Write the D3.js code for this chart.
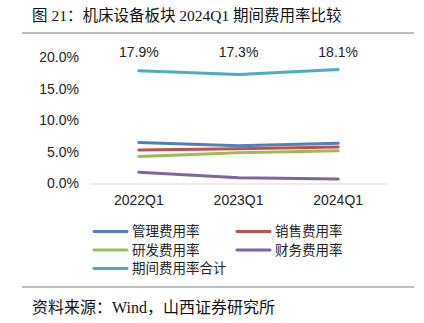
<!DOCTYPE html>
<html>
<head>
<meta charset="utf-8">
<script src="https://cdn.jsdelivr.net/npm/d3@7"></script>
<style>
  body { margin: 0; background: #fff; }
  svg { display: block; }
</style>
</head>
<body>
<script>
// quarters on the x axis
const quarters = ["2022Q1", "2023Q1", "2024Q1"];
// expense ratios, %
const mgmtRate = [6.5, 6.0, 6.4];
const salesRate = [5.3, 5.5, 5.8];
const rdRate = [4.3, 4.9, 5.2];
const finRate = [1.8, 0.9, 0.7];
const totalRate = [17.9, 17.3, 18.1];
const yTicks = [0, 5, 10, 15, 20];

const seriesNames = ["管理费用率", "销售费用率", "研发费用率", "财务费用率", "期间费用率合计"];
const seriesColors = ["#4F81BD", "#C0504D", "#9BBB59", "#8064A2", "#4BACC6"];
const series = [mgmtRate, salesRate, rdRate, finRate, totalRate].map((values, i) => ({
  name: seriesNames[i],
  color: seriesColors[i],
  values: values.map((v, j) => ({ q: quarters[j], v }))
}));

const W = 424, H = 323;
const cjk = "'Noto Sans CJK SC', sans-serif";
const serif = "'Liberation Serif', 'Noto Sans CJK SC', serif";
const sans = "'Liberation Sans', Arial, sans-serif";

const svg = d3.select("body").append("svg").attr("width", W).attr("height", H);

// heading and rule
svg.append("text")
  .attr("x", 32).attr("y", 21)
  .style("font-family", serif).style("font-size", "15.5px").attr("fill", "#111")
  .text("图 21：机床设备板块 2024Q1 期间费用率比较");
svg.append("line")
  .attr("x1", 22).attr("x2", 414).attr("y1", 33).attr("y2", 33)
  .attr("stroke", "#7f7f7f").attr("stroke-width", 1);

const x = d3.scaleBand().domain(quarters).range([89, 388]);
const y = d3.scaleLinear().domain([0, 20]).range([183.5, 57.5]);

// y axis labels only, no line
const yAxis = svg.append("g")
  .attr("transform", "translate(79,0)")
  .call(d3.axisLeft(y).tickValues(yTicks).tickSize(0).tickPadding(0)
    .tickFormat(d => d3.format(".1f")(d) + "%"));
yAxis.select(".domain").remove();
yAxis.selectAll("text")
  .style("font-family", sans).style("font-size", "14px").attr("fill", "#222");

// x axis baseline and labels
const xAxis = svg.append("g")
  .attr("transform", `translate(0,${y(0)})`)
  .call(d3.axisBottom(x).tickSize(0).tickPadding(12));
xAxis.select(".domain").attr("stroke", "#d9d9d9").attr("stroke-width", 1.2);
xAxis.selectAll("text")
  .style("font-family", sans).style("font-size", "14px").attr("fill", "#222");

const line = d3.line()
  .x(d => x(d.q) + x.bandwidth() / 2)
  .y(d => y(d.v));

svg.append("g").selectAll("path")
  .data(series)
  .join("path")
  .attr("d", d => line(d.values))
  .attr("fill", "none")
  .attr("stroke", d => d.color)
  .attr("stroke-width", 3)
  .attr("stroke-linecap", "round");

// value labels for the total
svg.append("g").selectAll("text")
  .data(series[4].values)
  .join("text")
  .attr("x", d => x(d.q) + x.bandwidth() / 2)
  .attr("y", 57)
  .attr("text-anchor", "middle")
  .style("font-family", sans).style("font-size", "14px").attr("fill", "#222")
  .text(d => d3.format(".1f")(d.v) + "%");

// legend, two columns
const legend = svg.append("g").selectAll("g")
  .data(series)
  .join("g")
  .attr("transform", (d, i) => `translate(${i % 2 ? 237 : 94},${231.5 + Math.floor(i / 2) * 18.5})`);
legend.append("line")
  .attr("x1", 0).attr("x2", 33)
  .attr("stroke", d => d.color).attr("stroke-width", 3).attr("stroke-linecap", "round");
legend.append("text")
  .attr("x", 38).attr("dy", "0.36em")
  .style("font-family", cjk).style("font-size", "13.5px").attr("fill", "#222")
  .text(d => d.name);

// footer
svg.append("line")
  .attr("x1", 22).attr("x2", 414).attr("y1", 287).attr("y2", 287)
  .attr("stroke", "#7f7f7f").attr("stroke-width", 1);
svg.append("text")
  .attr("x", 32).attr("y", 313)
  .style("font-family", serif).style("font-size", "16px").attr("fill", "#111")
  .text("资料来源：Wind，山西证券研究所");
</script>
</body>
</html>
